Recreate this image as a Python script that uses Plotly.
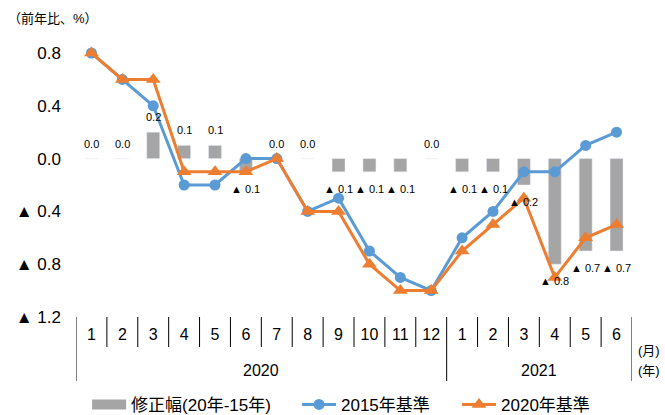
import plotly.graph_objects as go

# ---- data -------------------------------------------------------------
years = ["2020"] * 12 + ["2021"] * 6
months = ["1", "2", "3", "4", "5", "6", "7", "8", "9", "10", "11", "12",
          "1", "2", "3", "4", "5", "6"]
base2015 = [0.8, 0.6, 0.4, -0.2, -0.2, 0.0, 0.0, -0.4, -0.3, -0.7, -0.9, -1.0,
            -0.6, -0.4, -0.1, -0.1, 0.1, 0.2]
base2020 = [0.8, 0.6, 0.6, -0.1, -0.1, -0.1, 0.0, -0.4, -0.4, -0.8, -1.0, -1.0,
            -0.7, -0.5, -0.3, -0.9, -0.6, -0.5]
revision = [0.0, 0.0, 0.2, 0.1, 0.1, -0.1, 0.0, 0.0, -0.1, -0.1, -0.1, 0.0,
            -0.1, -0.1, -0.2, -0.8, -0.7, -0.7]
ytick_vals = [0.8, 0.4, 0.0, -0.4, -0.8, -1.2]
ytick_text = ["0.8", "0.4", "0.0", "▲ 0.4", "▲ 0.8", "▲ 1.2"]

FONT = "Liberation Sans, Arial, Noto Sans CJK JP"
GRAY = "#A5A5A5"
BLUE = "#5B9BD5"
ORANGE = "#ED7D31"

idx = list(range(len(months)))
y_lo, y_hi = ytick_vals[-1], ytick_vals[0]
plot_h = 264  # plot area height in px (used for px -> paper conversions)


def fmt(v):
    return "▲ {:.1f}".format(abs(v)) if v < 0 else "{:.1f}".format(v)


fig = go.Figure()

fig.add_trace(go.Bar(x=idx, y=revision, width=0.42, marker_color=GRAY,
                     showlegend=False, hoverinfo="skip"))
# legend key for the bar series (wide grey block)
fig.add_trace(go.Scatter(x=[None], y=[None], mode="lines",
                         line=dict(color=GRAY, width=10),
                         name="修正幅(20年-15年)", legend="legend"))
fig.add_trace(go.Scatter(x=idx, y=base2015, mode="lines+markers",
                         name="2015年基準", cliponaxis=False, legend="legend2",
                         line=dict(color=BLUE, width=3),
                         marker=dict(symbol="circle", size=11, color=BLUE)))
fig.add_trace(go.Scatter(x=idx, y=base2020, mode="lines+markers",
                         name="2020年基準", cliponaxis=False, legend="legend3",
                         line=dict(color=ORANGE, width=3),
                         marker=dict(symbol="triangle-up", size=13, color=ORANGE)))

annotations = []
# value labels of the revision bars
for i, v in zip(idx, revision):
    annotations.append(dict(x=i, y=v, xref="x", yref="y", text=fmt(v),
                            showarrow=False, yanchor="middle",
                            yshift=15 if v >= 0 else -17,
                            font=dict(size=11, color="#000000", family=FONT)))

# year group labels
for yr in sorted(set(years)):
    pos = [i for i, y in zip(idx, years) if y == yr]
    annotations.append(dict(x=sum(pos) / len(pos), y=0, xref="x", yref="paper",
                            text=yr, showarrow=False, yanchor="middle",
                            yshift=-53, font=dict(size=16, family=FONT)))

annotations += [
    dict(x=0, y=1, xref="paper", yref="paper", text="（前年比、%）",
         showarrow=False, xanchor="left", yanchor="middle", xshift=-70, yshift=35,
         font=dict(size=13, family=FONT)),
    dict(x=1, y=0, xref="paper", yref="paper", text="(月)", showarrow=False,
         xanchor="left", yanchor="middle", xshift=4, yshift=-33,
         font=dict(size=13, family=FONT)),
    dict(x=1, y=0, xref="paper", yref="paper", text="(年)", showarrow=False,
         xanchor="left", yanchor="middle", xshift=4, yshift=-53,
         font=dict(size=13, family=FONT)),
]

# category separators below the plot
shapes = []
bounds = [i - 0.5 for i in idx] + [idx[-1] + 0.5]
year_bounds = {bounds[0], bounds[-1]}
for i in idx[1:]:
    if years[i] != years[i - 1]:
        year_bounds.add(i - 0.5)
for b in bounds:
    length = 64 if b in year_bounds else 30
    shapes.append(dict(type="line", xref="x", yref="paper", x0=b, x1=b,
                       y0=0, y1=-length / plot_h,
                       line=dict(color="#000000", width=1)))


def legend_box(x):
    return dict(orientation="h", x=x, xanchor="left", y=-0.333,
                yanchor="middle", font=dict(size=17, family=FONT),
                itemwidth=34, bgcolor="rgba(0,0,0,0)")


fig.update_layout(
    width=665, height=415,
    margin=dict(l=76, r=33, t=53, b=98, autoexpand=False),
    paper_bgcolor="white", plot_bgcolor="white",
    font=dict(family=FONT, color="#000000"),
    barmode="overlay",
    showlegend=True,
    legend=legend_box(0.02),
    legend2=legend_box(0.3975),
    legend3=legend_box(0.6853),
    xaxis=dict(range=[-0.5, idx[-1] + 0.5], tickmode="array", tickvals=idx,
               ticktext=months, ticks="", showline=False, showgrid=False,
               zeroline=False, tickfont=dict(size=16, family=FONT),
               ticklabelstandoff=6),
    xaxis2=dict(overlaying="x", anchor="free",
                position=(0 - y_lo) / (y_hi - y_lo),
                range=[-0.5, idx[-1] + 0.5], tickmode="array",
                tickvals=[b / 2 for b in range(-1, 2 * idx[-1] + 2)],
                showticklabels=False, ticks="outside", ticklen=5,
                tickcolor="#000000", showline=True, linecolor="#000000",
                linewidth=1, showgrid=False, zeroline=False),
    yaxis=dict(range=[y_lo, y_hi], tickmode="array", tickvals=ytick_vals,
               ticktext=ytick_text, showgrid=False, zeroline=False,
               showline=False, ticks="", ticklabelstandoff=14,
               tickfont=dict(size=17, family=FONT)),
    annotations=annotations,
    shapes=shapes,
)

fig.write_html("out.html")
